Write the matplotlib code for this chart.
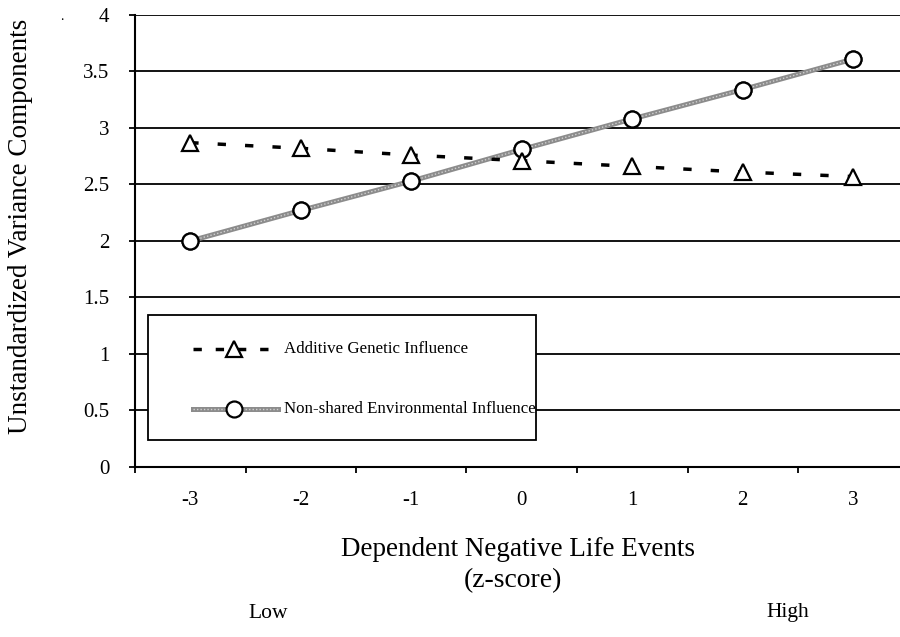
import matplotlib.pyplot as plt
from matplotlib.lines import Line2D
from matplotlib.patches import Rectangle

# данные
categories = ['-3', '-2', '-1', '0', '1', '2', '3']
additive = [2.87, 2.82, 2.76, 2.71, 2.66, 2.61, 2.57]
nonshared = [2.00, 2.27, 2.53, 2.81, 3.08, 3.34, 3.61]
y_ticks = [0, 0.5, 1, 1.5, 2, 2.5, 3, 3.5, 4]
y_labels = ['0', '0.5', '1', '1.5', '2', '2.5', '3', '3.5', '4']
legend_labels = ['Additive Genetic Influence', 'Non-shared Environmental Influence']

plt.rcParams['font.family'] = ['Liberation Serif', 'DejaVu Serif']

fig = plt.figure(figsize=(9, 6.37), dpi=100)
ax = fig.add_axes([0.15, 0.2669, 0.85, 0.7096])

x = list(range(len(categories)))

# горизонтальные линии сетки
for v in y_ticks:
    ax.axhline(v, color='black', linewidth=1.3, zorder=1)

add_style = dict(color='black', linewidth=2.5, dashes=(2.4, 5.5),
                 marker='^', markersize=11, markerfacecolor='white',
                 markeredgecolor='black', markeredgewidth=1.6)
non_style = dict(color='#8c8c8c', linewidth=3.6,
                 marker='o', markersize=11.5, markerfacecolor='white',
                 markeredgecolor='black', markeredgewidth=1.6)
texture = dict(color='#d0d0d0', linewidth=1.0, linestyle=(0, (1, 1.5)))

ax.plot(x, nonshared, zorder=2, **non_style)
ax.plot(x, nonshared, zorder=2.1, **texture)
ax.plot(x, nonshared, linestyle='none', zorder=2.2, **{k: v for k, v in non_style.items()
                                                       if k not in ('color', 'linewidth')})
ax.plot(x, additive, zorder=3, **add_style)

ax.set_xlim(-0.5, -0.5 + 765 / 110.5)
ax.set_ylim(0, 4)

ax.set_yticks(y_ticks)
ax.set_yticklabels(y_labels, fontsize=15)
ax.set_xticks([i - 0.5 for i in range(len(categories))])
ax.set_xticklabels([])
ax.set_xticks(x, minor=True)
ax.set_xticklabels(categories, minor=True, fontsize=15)
ax.tick_params(axis='x', which='minor', length=0, pad=17)
ax.tick_params(axis='x', which='major', length=4, width=1.3, direction='out')
ax.tick_params(axis='y', length=4.5, width=1.3, direction='out', pad=14)

for s in ['top', 'right']:
    ax.spines[s].set_visible(False)
ax.spines['left'].set_linewidth(1.5)
ax.spines['bottom'].set_linewidth(1.5)

ax.set_ylabel('Unstandardized Variance Components', fontsize=19.5)
ax.yaxis.set_label_coords(-0.133, 0.532)

# легенда (рамка и образцы линий в координатах осей)
ax.add_patch(Rectangle((0.017, 0.0597), 0.507, 0.2763, transform=ax.transAxes,
                       facecolor='white', edgecolor='black', linewidth=1.3,
                       zorder=5, clip_on=False))
rows_y = [0.261, 0.128]
for ry, style, lab in zip(rows_y, [add_style, non_style], legend_labels):
    st = dict(style)
    st.pop('marker')
    if 'dashes' in st:
        st['dashes'] = (2.4, 4.0)
        x_end = 0.183
    else:
        x_end = 0.187
    ax.add_line(Line2D([0.0758, x_end], [ry, ry], transform=ax.transAxes, zorder=6, **st))
    if style is non_style:
        ax.add_line(Line2D([0.0758, x_end], [ry, ry], transform=ax.transAxes, zorder=6.1,
                           **texture))
    ax.add_line(Line2D([0.1295], [ry], transform=ax.transAxes, zorder=7, linestyle='none',
                       marker=style['marker'], markersize=style['markersize'],
                       markerfacecolor='white', markeredgecolor='black',
                       markeredgewidth=1.6))
    ax.text(0.195, ry, lab, transform=ax.transAxes, fontsize=12.2, va='center',
            ha='left', zorder=7)

fig.text(518 / 900, 1 - 549 / 637, 'Dependent Negative Life Events', fontsize=19.5,
         ha='center', va='center')
fig.text(513 / 900, 1 - 581 / 637, '(z-score)', fontsize=20, ha='center', va='center')
fig.text(268 / 900, 1 - 613 / 637, 'Low', fontsize=15.5, ha='center', va='center')
fig.text(788 / 900, 1 - 613 / 637, 'High', fontsize=15.5, ha='center', va='center')
fig.text(62 / 900, 1 - 16 / 637, '.', fontsize=10, ha='center', va='center')

plt.savefig('out.png', dpi=100)
